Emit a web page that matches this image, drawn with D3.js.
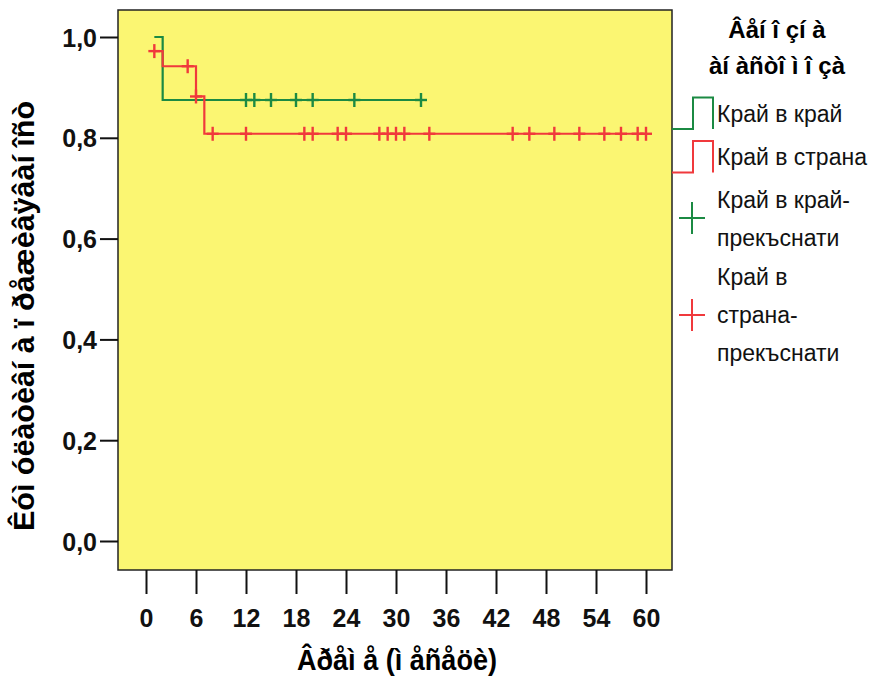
<!DOCTYPE html>
<html>
<head>
<meta charset="utf-8">
<script src="https://cdn.jsdelivr.net/npm/d3@7"></script>
<style>
  body { margin: 0; background: #fff; }
  text { font-family: "Liberation Sans", Arial, sans-serif; }
</style>
</head>
<body>
<svg id="chart" width="877" height="682"></svg>
<script>
// survival data
var xTicks = [0, 6, 12, 18, 24, 30, 36, 42, 48, 54, 60];
var yTicks = [0, 0.2, 0.4, 0.6, 0.8, 1.0];

var greenTimes = [1, 2];
var greenSurv = [1.0, 0.875];
var greenEnd = 33;
var greenCensored = [12, 13, 15, 18, 20, 25, 33];

var redTimes = [1, 2, 6, 7];
var redSurv = [0.972, 0.942, 0.882, 0.808];
var redEnd = 60;
var redCensored = [1, 5, 6, 8, 12, 19, 20, 23, 24, 28, 29, 30, 31, 34, 44, 46, 49, 52, 55, 57, 59, 60];

var legendTitle = ["Âåí î çí à", "àí àñòî ì î çà"];
var legendLabels = [["Край в край"], ["Край в страна"], ["Край в край-", "прекъснати"], ["Край в", "страна-", "прекъснати"]];

var green = "#1b8a43", red = "#f0393c", yellow = "#fbf672";

// plot frame
var frame = {left: 118, top: 10, right: 672, bottom: 570};

var svg = d3.select("#chart");

var x = d3.scaleLinear().domain([0, 60]).range([146, 646]);
var y = d3.scaleLinear().domain([0, 1]).range([541, 37]);

svg.append("rect")
    .attr("x", frame.left).attr("y", frame.top)
    .attr("width", frame.right - frame.left)
    .attr("height", frame.bottom - frame.top)
    .attr("fill", yellow)
    .attr("stroke", "#222").attr("stroke-width", 1.5);

// axes
var yAxis = svg.append("g")
    .attr("transform", "translate(" + frame.left + ",0)")
    .call(d3.axisLeft(y).tickValues(yTicks).tickSize(18).tickPadding(3)
      .tickFormat(function(d) { return d3.format(".1f")(d).replace(".", ","); }));
yAxis.select(".domain").remove();

var xAxis = svg.append("g")
    .attr("transform", "translate(0," + frame.bottom + ")")
    .call(d3.axisBottom(x).tickValues(xTicks).tickSize(24).tickPadding(15));
xAxis.select(".domain").remove();

svg.selectAll(".tick line").attr("stroke", "#111").attr("stroke-width", 2);
svg.selectAll(".tick text")
    .attr("fill", "#111")
    .style("font-size", "25px")
    .style("font-weight", "bold");
yAxis.selectAll(".tick text").attr("dy", "0.36em");

// curves
function stepLine(times, surv, end) {
  var pts = [];
  for (var i = 0; i < times.length; i++) {
    pts.push([times[i], surv[i]]);
  }
  pts.push([end, surv[surv.length - 1]]);
  return d3.line().curve(d3.curveStepAfter)
    .x(function(d) { return x(d[0]); })
    .y(function(d) { return y(d[1]); })(pts);
}

function survAt(times, surv, t) {
  var s = surv[0];
  for (var i = 0; i < times.length; i++) {
    if (times[i] <= t) s = surv[i];
  }
  return s;
}

function drawGroup(times, surv, end, censored, color) {
  svg.append("path")
    .attr("d", stepLine(times, surv, end))
    .attr("fill", "none")
    .attr("stroke", color)
    .attr("stroke-width", 2.2);

  var c = svg.append("g").selectAll("g")
    .data(censored)
    .enter().append("g")
      .attr("transform", function(t) {
        return "translate(" + x(t) + "," + y(survAt(times, surv, t)) + ")";
      });
  c.append("line").attr("x1", -6).attr("x2", 6).attr("y1", 0).attr("y2", 0);
  c.append("line").attr("x1", 0).attr("x2", 0).attr("y1", -7).attr("y2", 7);
  c.selectAll("line").attr("stroke", color).attr("stroke-width", 2.4);
}

drawGroup(greenTimes, greenSurv, greenEnd, greenCensored, green);
drawGroup(redTimes, redSurv, redEnd, redCensored, red);

// axis titles
svg.append("text")
    .attr("x", 397).attr("y", 670)
    .attr("text-anchor", "middle")
    .attr("textLength", 200).attr("lengthAdjust", "spacingAndGlyphs")
    .style("font-size", "30px").style("font-weight", "bold")
    .text("Âðåì å (ì åñåöè)");

svg.append("text")
    .attr("transform", "translate(34,316) rotate(-90)")
    .attr("text-anchor", "middle")
    .attr("textLength", 430).attr("lengthAdjust", "spacingAndGlyphs")
    .style("font-size", "30px").style("font-weight", "bold")
    .text("Êóì óëàòèâí à ï ðåæèâÿâàí îñò");

// legend
svg.selectAll(".lt")
  .data(legendTitle)
  .enter().append("text")
    .attr("x", 777)
    .attr("y", function(d, i) { return 38 + i * 36; })
    .attr("text-anchor", "middle")
    .style("font-size", "24px").style("font-weight", "bold")
    .text(function(d) { return d; });

function stepSymbol(yLow, yHigh, color) {
  svg.append("path")
    .attr("d", d3.line()([[672, yLow], [693, yLow], [693, yHigh], [713, yHigh], [713, yLow]]))
    .attr("fill", "none").attr("stroke", color).attr("stroke-width", 2);
}
function crossSymbol(cy, color) {
  var g = svg.append("g").attr("transform", "translate(692," + cy + ")");
  g.append("line").attr("x1", -13).attr("x2", 13).attr("y1", 0).attr("y2", 0);
  g.append("line").attr("x1", 0).attr("x2", 0).attr("y1", -16).attr("y2", 16);
  g.selectAll("line").attr("stroke", color).attr("stroke-width", 2);
}

stepSymbol(129, 97.5, green);
stepSymbol(172.5, 141, red);
crossSymbol(218, green);
crossSymbol(315, red);

var labelY = [[114], [157], [200, 238], [277, 315, 353]];
legendLabels.forEach(function(lines, k) {
  lines.forEach(function(s, j) {
    svg.append("text")
      .attr("x", 717)
      .attr("y", labelY[k][j])
      .attr("dy", "0.36em")
      .style("font-size", "23px")
      .attr("fill", "#111")
      .text(s);
  });
});
</script>
</body>
</html>
